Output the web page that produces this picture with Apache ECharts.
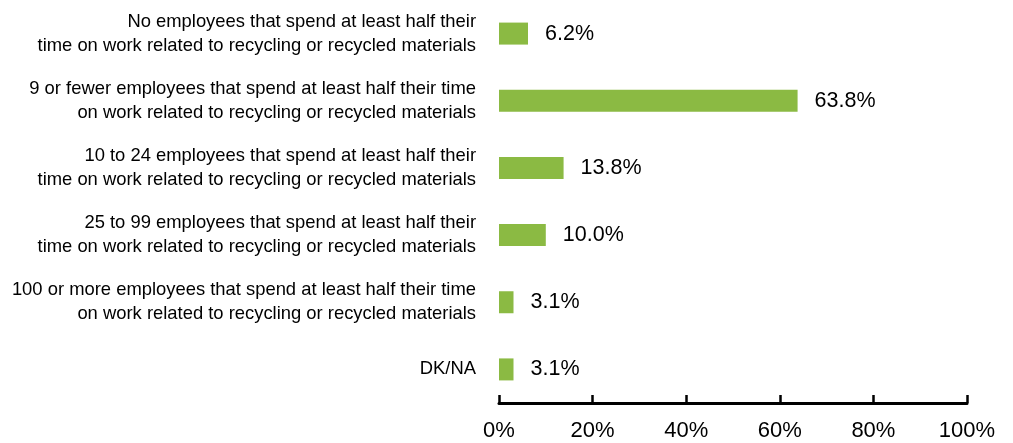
<!DOCTYPE html>
<html><head><meta charset="utf-8">
<script src="https://cdn.jsdelivr.net/npm/echarts@6/dist/echarts.min.js"></script>
<style>html,body{margin:0;padding:0;background:#fff}#c{width:1013px;height:443px}</style>
</head><body><div id="c"></div>
<script>
const categories = [
  "No employees that spend at least half their\ntime on work related to recycling or recycled materials",
  "9 or fewer employees that spend at least half their time\non work related to recycling or recycled materials",
  "10 to 24 employees that spend at least half their\ntime on work related to recycling or recycled materials",
  "25 to 99 employees that spend at least half their\ntime on work related to recycling or recycled materials",
  "100 or more employees that spend at least half their time\non work related to recycling or recycled materials",
  "DK/NA"
];
const values = [6.2, 63.8, 13.8, 10.0, 3.1, 3.1];
const xTicks = [0, 20, 40, 60, 80, 100];

const FONT = "'Liberation Sans', Arial, sans-serif";
const chart = echarts.init(document.getElementById('c'), null, {renderer: 'canvas'});
chart.setOption({
  animation: false,
  grid: {left: 499, right: 46, top: 0, bottom: 40, containLabel: false},
  xAxis: {
    type: 'value', min: xTicks[0], max: xTicks[xTicks.length - 1], interval: 20,
    axisLine: {show: true, lineStyle: {color: '#000', width: 3}},
    axisTick: {show: true, inside: true, length: 8, lineStyle: {color: '#000', width: 2.5}},
    splitLine: {show: false},
    axisLabel: {formatter: v => v + '%', color: '#000', fontSize: 22, fontFamily: FONT, margin: 17}
  },
  yAxis: {
    type: 'category', inverse: true, data: categories,
    axisLine: {show: false}, axisTick: {show: false},
    axisLabel: {color: '#000', fontSize: 18.4, fontFamily: FONT, lineHeight: 24, align: 'right', margin: 23}
  },
  series: [{
    type: 'bar', data: values, barWidth: 22,
    itemStyle: {color: '#8BBA43'},
    label: {show: true, position: 'right', distance: 17, formatter: p => p.value.toFixed(1) + '%',
      color: '#000', fontSize: 21.5, fontFamily: FONT}
  }]
});
</script></body></html>
